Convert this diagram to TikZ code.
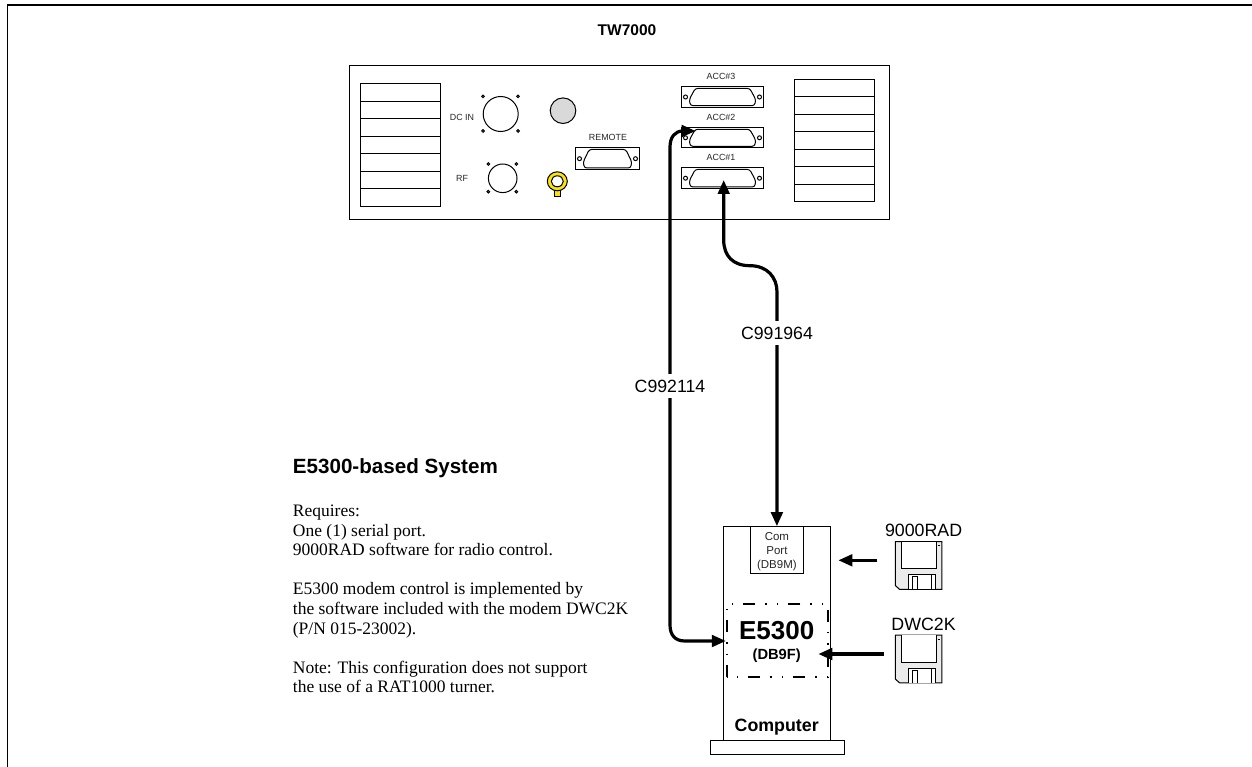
\documentclass[tikz,border=0pt]{standalone}
\usepackage{fontspec}
\setmainfont{Liberation Serif}
\setsansfont{Liberation Sans}
\usetikzlibrary{arrows.meta,positioning}

\tikzset{
  thin line/.style={line width=1pt},
  cable/.style={line width=3.2pt,{Triangle[length=14pt,width=11.5pt]}-{Triangle[length=14pt,width=11.5pt]}},
  feed/.style={line width=3.2pt,-{Triangle[length=14pt,width=11.5pt]}},
  small label/.style={font=\sffamily\fontsize{8.9}{10}\selectfont,text=black!85,inner sep=0pt},
  cable label/.style={font=\sffamily\fontsize{17.7}{20}\selectfont,fill=white,inner xsep=2pt,inner ysep=6pt},
  disk label/.style={font=\sffamily\fontsize{17.8}{20}\selectfont,inner sep=0pt},
  frame box/.style={draw,thin line,inner sep=0pt}
}
\definecolor{lugyellow}{RGB}{250,225,20}

\begin{document}
\begin{tikzpicture}[x=1pt,y=-1pt]
  \useasboundingbox (0,0) rectangle (1252,767);
  % outer frame
  \draw[line width=1.2pt] (7.5,767) -- (7.5,5) -- (1252,5);
  \node[font=\sffamily\bfseries\fontsize{15.5}{17}\selectfont,inner sep=0pt] (title) at (627,30) {TW7000};

  % radio panel
  \draw[thin line] (349.5,65.7) rectangle (889,220);
  \foreach \x/\y in {360.5/83.7,794.7/79.3}
  {
    \foreach \i in {0,...,6}
      \draw[thin line] (\x,\y+17.5*\i) rectangle (\x+80.2,\y+17.5*\i+17.5);
  }
  \draw[thin line] (500.7,114)circle(17.5);
  \foreach \x/\y in {483/96.3,518/96.3,483/131,518/131}
    \draw[thin line,fill=white] (\x,\y)circle(1.3);
  \draw[thin line] (502.7,178.3)circle(14.3);
  \foreach \x/\y in {488.3/164,516.3/164,488.3/191.7,516.3/191.7}
    \draw[thin line,fill=white] (\x,\y)circle(1.3);
  \node[small label] (dcin) at (462,117) {DC IN};
  \node[small label] (rf) at (462,178) {RF};
  \draw[thin line,fill=black!15] (563,110.7)circle(12.8);
  % yellow ground lug
  \draw[thin line,fill=lugyellow] (554,188) rectangle (560.7,197);
  \draw[thin line,fill=lugyellow,even odd rule] (557.3,181.3)circle[x radius=10,y radius=9.5] circle[x radius=6,y radius=5.5];

  % D connectors
  \foreach \n/\x/\y/\h/\w/\o/\t in
  {
    acc3/722.5/97/41.2/10.3/-1.5/ACC\#3,
    acc2/722.5/137.8/41.2/10.2/-1.5/ACC\#2,
    acc1/722.5/178.2/41.2/10.5/-1.5/ACC\#1,
    remote/607.5/158.7/32.2/11/0.5/REMOTE%
  }
  {
    \draw[thin line] (\x-\h,\y-\w) rectangle (\x+\h,\y+\w);
    \coordinate (\n) at (\x,\y);
    \draw[thin line,rounded corners=2.5pt] (\x-\h+14,\y-\w+1.7) -- (\x+\h-14,\y-\w+1.7) -- (\x+\h-8,\y+\w-8) -- (\x+\h-9,\y+\w-1.7) -- (\x-\h+9,\y+\w-1.7) -- (\x-\h+8,\y+\w-8) -- cycle;
    \draw[thin line] (\x-\h+4.2,\y)circle(2) (\x+\h-4.2,\y)circle(2);
    \node[small label] at (\x+\o,\y-\w-10) {\t};
  }

  % computer
  \node[frame box,minimum width=134pt,minimum height=14.3pt] (base) at (777,747.2) {};
  \node[frame box,minimum width=107.4pt,minimum height=213.3pt] (computer) at (777,633.4) {};
  \node[frame box,minimum width=53.7pt,minimum height=47pt] (comport) at (776.9,550.2) {};
  \node[align=center,font=\sffamily\fontsize{11.5}{14.2}\selectfont,text=black!85,inner sep=0pt] (comtext) at (776.9,551.4) {Com\\Port\\(DB9M)};
  \node[font=\sffamily\bfseries\fontsize{17.8}{20}\selectfont,inner sep=0pt] (pclabel) at (776.7,727.5) {Computer};
  \node[draw,line width=1.6pt,dash pattern=on 12pt off 10pt on 1.5pt off 10pt on 1.5pt off 10pt,dash phase=23.4pt,minimum width=101pt,minimum height=73.3pt,inner sep=0pt] (modem) at (777.2,640.6) {};
  \node[font=\sffamily\bfseries\fontsize{26}{28}\selectfont,inner sep=0pt] (modemname) at (776.7,630.7) {E5300};
  \node[font=\sffamily\bfseries\fontsize{14.7}{16}\selectfont,inner sep=0pt] (modemport) at (776.7,656) {(DB9F)};

  % floppy disks
  \foreach \n/\y/\t/\ly in {rad/541.5/9000RAD/530,dwc/635/DWC2K/624}
  {
    \node[inner sep=0pt,minimum width=46.6pt,minimum height=47.8pt] (\n) at (918.6,\y+23.9) {};
    \draw[thin line,fill=black!8] (895.3,\y) -- (941.9,\y) -- (941.9,\y+47.8) -- (899.5,\y+47.8) -- (895.3,\y+44) -- cycle;
    \draw[thin line,fill=white] (901.7,\y) -- (901.7,\y+27) -- (936,\y+27) -- (936,\y);
    \draw[thin line,fill=white] (908.3,\y+47.8) -- (908.3,\y+33) -- (935,\y+33) -- (935,\y+47.8);
    \draw[thin line] (912.3,\y+47.8) -- (912.3,\y+35) -- (917.3,\y+35) -- (917.3,\y+47.8);
    \draw[thin line] (931.5,\y+33) -- (931.5,\y+47.8);
    \draw[line width=0.8pt] (937.5,\y+4) -- (939.5,\y+4);
    \node[disk label] (\n label) at (923.6,\ly) {\t};
  }

  % cables and feeds
  \coordinate (radtail) at (877.3,560.3);
  \coordinate (radtip) at (838.3,560.3);
  \coordinate (dwctail) at (884,654);
  \coordinate (dwctip) at (818.3,654);
  \draw[feed] (radtail) -- (radtip);
  \draw[feed] (dwctail) -- (dwctip);
  \coordinate (acctwoend) at (695.7,131);
  \coordinate (acconeend) at (723.7,180);
  \draw[cable] (acctwoend) -- (683,131) .. controls (675,131) and (670,137) .. (670,147) -- (670,625) .. controls (670,635) and (675,641) .. (685,641) -- (modem.west |- 0,641);
  \draw[cable] (acconeend) -- (723.7,240) .. controls (723.7,256) and (733,265.7) .. (750,265.7) .. controls (767,265.7) and (777,277) .. (777,292) -- (comport.north);
  \node[cable label] (cabletwo) at (670,386) {C992114};
  \node[cable label] (cableone) at (777,333) {C991964};

  % notes
  \node[font=\sffamily\bfseries\fontsize{20.6}{22}\selectfont,anchor=west,inner sep=0pt] (heading) at (292.7,468) {E5300-based System};
  \node[font=\fontsize{17.5}{19.6}\selectfont,align=left,anchor=north west,inner sep=0pt] (notes) at (292.7,504.8) {Requires:\\One (1) serial port.\\9000RAD software for radio control.\\[19.6pt]E5300 modem control is implemented by\\the software included with the modem DWC2K\\(P/N 015-23002).\\[19.6pt]Note: This configuration does not support\\the use of a RAT1000 turner.};
\end{tikzpicture}
\end{document}
